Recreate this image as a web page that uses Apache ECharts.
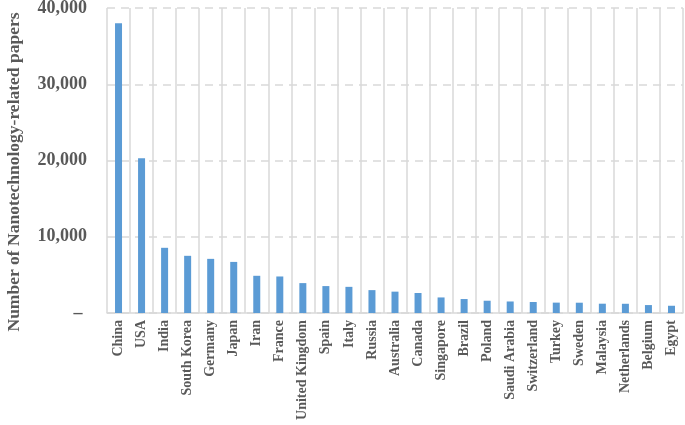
<!DOCTYPE html>
<html>
<head>
<meta charset="UTF-8">
<script src="https://cdn.jsdelivr.net/npm/echarts@6/dist/echarts.min.js"></script>
<style>
  html, body { margin: 0; padding: 0; background: #fff; }
  #main { width: 685px; height: 425px; }
</style>
</head>
<body>
<div id="main"></div>
<script>
// countries, ordered as in the figure
var countries = ['China', 'USA', 'India', 'South Korea', 'Germany', 'Japan', 'Iran', 'France',
  'United Kingdom', 'Spain', 'Italy', 'Russia', 'Australia', 'Canada', 'Singapore', 'Brazil',
  'Poland', 'Saudi Arabia', 'Switzerland', 'Turkey', 'Sweden', 'Malaysia', 'Netherlands',
  'Belgium', 'Egypt'];
// number of papers
var papers = [38000, 20300, 8550, 7500, 7100, 6700, 4880, 4790, 3920, 3530, 3430, 3000,
  2800, 2620, 2040, 1830, 1610, 1510, 1440, 1360, 1350, 1220, 1210, 1040, 950];
var yTicks = [0, 10000, 20000, 30000, 40000];
var yName = 'Number of Nanotechnology-related papers';

var gray = '#595959';
var serif = '"Liberation Serif", "Times New Roman", serif';

var chart = echarts.init(document.getElementById('main'));
chart.setOption({
  animation: false,
  grid: { left: 107, right: 2, top: 8, bottom: 112, containLabel: false, outerBoundsMode: 'none' },
  // y axis title, placed by hand so it sits a bit lower like the original
  graphic: [{
    type: 'text',
    x: 14, y: 172,
    rotation: Math.PI / 2,
    style: {
      text: yName, fill: gray,
      font: 'bold 17.5px ' + serif,
      align: 'center', verticalAlign: 'middle'
    }
  }],
  xAxis: {
    type: 'category',
    data: countries,
    axisLine: { lineStyle: { color: '#d9d9d9', width: 1.5 } },
    axisTick: { show: false },
    splitLine: { show: true, interval: 0, lineStyle: { color: '#d9d9d9', width: 1.5 } },
    axisLabel: {
      interval: 0, rotate: 90, margin: 7,
      color: gray, fontFamily: serif, fontWeight: 'bold', fontSize: 14
    }
  },
  yAxis: {
    type: 'value',
    min: yTicks[0], max: yTicks[yTicks.length - 1], interval: yTicks[1] - yTicks[0],
    axisLine: { show: false },
    axisTick: { show: false },
    splitLine: { lineStyle: { color: '#d9d9d9', width: 1.5, type: [8, 6] } },
    axisLabel: {
      margin: 20, color: gray, fontFamily: serif, fontWeight: 'bold', fontSize: 18,
      formatter: function (v) { return v === 0 ? '– ' : v.toLocaleString('en-US'); }
    }
  },
  series: [{
    type: 'bar',
    data: papers,
    barWidth: 7,
    itemStyle: { color: '#5b9bd5' }
  }]
});
</script>
</body>
</html>
